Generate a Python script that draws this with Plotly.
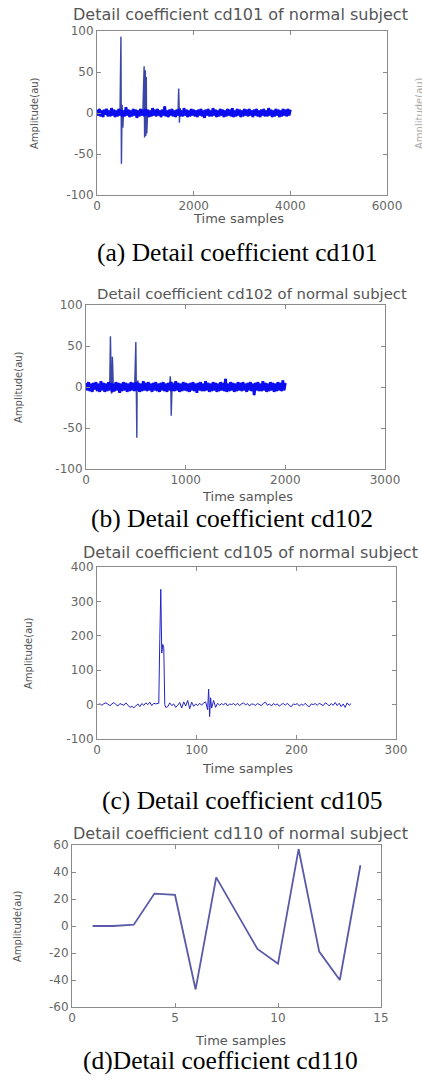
import plotly.graph_objects as go

W, H = 422, 1082

# ---------------- data ----------------
# cd101: sample index every 25 samples, 0..4000
cd101_step = 25
cd101_noise = [
    4, -3, 5, -4, 3, -5, 4, -2, 5, -4, 3, -4, 6, -3, 4, -5, 3, -4, 5, -3,
    4, -5, 3, -4, 7, -3, 4, -5, 3, -4, 5, -3, 4, -6, 3, -4, 5, -3, 4, -4,
    5, -3, 4, -5, 3, -4, 6, -3, 4, -4, 5, -3, 3, -5, 4, -3, 8, -4, 3, -5,
    4, -3, 5, -4, 3, -5, 4, -3, 5, -4, 3, -4, 6, -3, 4, -5, 3, -4, 5, -3,
    4, -4, 3, -5, 4, -3, 5, -4, 3, -6, 4, -3, 5, -4, 3, -4, 6, -3, 4, -5,
    3, -4, 5, -3, 4, -5, 3, -4, 5, -3, 4, -4, 6, -5, 3, -4, 5, -3, 4, -5,
    3, -4, 5, -3, 4, -4, 5, -3, 3, -5, 4, -3, 5, -4, 3, -5, 4, -3, 5, -4,
    3, -4, 6, -3, 4, -5, 3, -4, 5, -3, 4, -5, 3, -4, 5, -3, 4, -4, 5, -3,
    4,
]
cd101_spike_x = [495, 505, 520, 535, 975, 985, 1000, 1010, 1020, 1030, 1690, 1705, 1720]
cd101_spike_y = [93, -62, 10, -18, 57, -30, 52, -28, 44, -25, 30, -12, 6]

# cd102: sample index every 12.5 samples, 0..2000
cd102_step = 12.5
cd102_noise = [
    5, -4, 6, -5, 4, -6, 5, -3, 6, -5, 4, -6, 7, -4, 5, -6, 4, -5, 6, -4,
    5, -6, 4, -5, 6, -4, 5, -7, 4, -5, 6, -4, 5, -6, 4, -5, 6, -4, 5, -5,
    6, -4, 5, -6, 4, -5, 7, -4, 5, -5, 6, -4, 4, -6, 5, -4, 6, -5, 4, -6,
    5, -4, 6, -5, 4, -6, 5, -4, 6, -5, 4, -5, 7, -4, 5, -6, 4, -5, 6, -4,
    5, -5, 4, -6, 5, -4, 6, -5, 4, -7, 5, -4, 6, -5, 4, -5, 7, -4, 5, -6,
    4, -5, 6, -4, 5, -6, 4, -5, 6, -4, 5, -5, 10, -6, 4, -5, 6, -4, 5, -6,
    4, -5, 6, -4, 5, -5, 6, -4, 4, -6, 5, -4, 6, -5, 4, -10, 5, -4, 6, -5,
    4, -5, 7, -4, 5, -6, 4, -5, 6, -4, 5, -6, 4, -5, 6, -4, 5, -5, 8, -4,
    5,
]
cd102_spike_x = [245, 255, 265, 275, 500, 510, 520, 845, 855, 865]
cd102_spike_y = [62, -8, 37, -5, 55, -62, 8, 13, -35, 6]

# cd105: odd sample indices 1..255
cd105_step = 2
cd105_noise = [
    0, 2, -2, 3, 5, 1, -3, 2, 6, 0, -4, 3, 1, -2, 5, -3, -8, -5, -9, -4,
    2, -6, 3, -2, 5, 0, 7, -3, 4, 2,
    3, -1, 4, -4, 2, -6, 5, -3, 2, -8,
    -2, 6, -10, 8, -4, 12, -12, 7, -5, 2,
    -3, 4, -2, 5, 8, -12, 15, -14, 12, -8,
    4, -2, 3, -1, 5, -4, 2, 0, 3, -2,
    4, -3, 2, 5, -1, 3, -4, 2, 1, -2,
    3, 0, -3, 4, 7, -2, 2, -4, 3, -1,
    2, -5, 1, 3, -2, 4, -3, -6, 2, 0,
    3, -4, 1, -2, 4, -3, -6, 2, 0, 3,
    -2, 4, 1, -3, 5, 2, -4, 3, -2, 6,
    -3, 4, -6, 2, -8, 5, -2, 3,
]
cd105_spike_x = [62, 63, 64, 65, 66, 67, 68, 69, 111, 112, 113, 114, 115]
cd105_spike_y = [4, 190, 335, 150, 175, 165, 0, -8, -15, 45, -35, 20, -10]

# cd110: 14 samples
cd110_x = [1, 2, 3, 4, 5, 6, 7, 8, 9, 10, 11, 12, 13, 14]
cd110_y = [0, 0, 1, 24, 23, -47, 36, 10, -17, -28, 57, -19, -40, 45]

titles = ["Detail coefficient cd101 of normal subject",
          "Detail coefficient cd102 of normal subject",
          "Detail coefficient cd105 of normal subject",
          "Detail coefficient cd110 of normal subject"]
captions = ["(a) Detail coefficient cd101", "(b) Detail coefficient cd102",
            "(c) Detail coefficient cd105", "(d)Detail coefficient cd110"]
x_ticks = [[0, 2000, 4000, 6000], [0, 1000, 2000, 3000], [0, 100, 200, 300], [0, 5, 10, 15]]
y_ticks = [[-100, -50, 0, 50, 100], [-100, -50, 0, 50, 100],
           [-100, 0, 100, 200, 300, 400], [-60, -40, -20, 0, 20, 40, 60]]
x_label = "Time samples"
y_label = "Amplitude(au)"


def noise_xy(noise, step, start):
    return [start + i * step for i in range(len(noise))], list(noise)


def merge(noise, step, start, sx, sy):
    d = dict(zip(*noise_xy(noise, step, start)))
    d.update(zip(sx, sy))
    k = sorted(d)
    return k, [d[i] for i in k]


series = [
    merge(cd101_noise, cd101_step, 0, cd101_spike_x, cd101_spike_y),
    merge(cd102_noise, cd102_step, 0, cd102_spike_x, cd102_spike_y),
    merge(cd105_noise, cd105_step, 1, cd105_spike_x, cd105_spike_y),
    (cd110_x, cd110_y),
]
bands = [
    noise_xy(cd101_noise, cd101_step, 0),
    noise_xy(cd102_noise, cd102_step, 0),
    None,
    None,
]

# ---------------- layout (pixel boxes) ----------------
boxes = [  # left, right, top, bottom (px)
    (97, 387, 31, 195),
    (86, 385, 305, 469),
    (97, 396, 567, 739),
    (72, 381, 845, 1007),
]
line_styles = [
    dict(color="#3a46a8", width=1.4),
    dict(color="#3a46a8", width=1.4),
    dict(color="#2424c8", width=1.0),
    dict(color="#5a5aa8", width=1.8),
]
band_style = dict(color="#0c0cf0", width=2.8)
title_pos = [(240, 15, 16), (252, 293, 14.8), (250, 552, 16), (240, 833, 16)]
ytitle_x = [35, 18, 28, 17]
xtitle_pos = [(238, 218), (247, 497), (248, 768), (240, 1040)]
caption_pos = [(237, 252), (232, 518), (242, 800), (220, 1060)]

px = lambda v: v / W
py = lambda v: 1 - v / H

fig = go.Figure()
annotations = []
tickfont = dict(family="DejaVu Sans", size=12, color="#666666")
for i in range(4):
    n = "" if i == 0 else str(i + 1)
    l, r, t, b = boxes[i]
    xs, ys = series[i]
    fig.add_trace(go.Scatter(x=xs, y=ys, mode="lines", line=line_styles[i],
                             xaxis="x" + n, yaxis="y" + n, showlegend=False,
                             hoverinfo="skip"))
    if bands[i] is not None:
        bx, by = bands[i]
        fig.add_trace(go.Scatter(x=bx, y=by, mode="lines", line=band_style,
                                 xaxis="x" + n, yaxis="y" + n, showlegend=False,
                                 hoverinfo="skip"))
    common = dict(showgrid=False, zeroline=False, showline=True, mirror="ticks",
                  linecolor="#8a8a8a", linewidth=1, ticks="inside", ticklen=4,
                  tickcolor="#8a8a8a", tickfont=tickfont)
    fig.layout["xaxis" + n] = dict(domain=[px(l), px(r)], anchor="y" + n,
                                   range=[x_ticks[i][0], x_ticks[i][-1]],
                                   tickvals=x_ticks[i], ticktext=[str(v) for v in x_ticks[i]],
                                   **common)
    fig.layout["yaxis" + n] = dict(domain=[py(b), py(t)], anchor="x" + n,
                                   range=[y_ticks[i][0], y_ticks[i][-1]],
                                   tickvals=y_ticks[i], ticktext=[str(v) for v in y_ticks[i]],
                                   **common)
    tx, ty, ts = title_pos[i]
    annotations.append(dict(text=titles[i], x=px(tx), y=py(ty), xref="paper", yref="paper",
                            xanchor="center", yanchor="middle", showarrow=False,
                            font=dict(family="DejaVu Sans", size=ts, color="#555555")))
    annotations.append(dict(text=y_label, x=px(ytitle_x[i]), y=py((t + b) / 2),
                            xref="paper", yref="paper", xanchor="center", yanchor="middle",
                            textangle=-90, showarrow=False,
                            font=dict(family="DejaVu Sans", size=10, color="#555555")))
    xx, xy = xtitle_pos[i]
    annotations.append(dict(text=x_label, x=px(xx), y=py(xy), xref="paper", yref="paper",
                            xanchor="center", yanchor="middle", showarrow=False,
                            font=dict(family="DejaVu Sans", size=13, color="#555555")))
    cx, cy = caption_pos[i]
    annotations.append(dict(text=captions[i], x=px(cx), y=py(cy), xref="paper", yref="paper",
                            xanchor="center", yanchor="middle", showarrow=False,
                            font=dict(family="Liberation Serif", size=25.5, color="#000000")))

# faint cut-off neighbour label at the right edge of the first panel
annotations.append(dict(text=y_label, x=px(420), y=py(113), xref="paper", yref="paper",
                        xanchor="center", yanchor="middle", textangle=-90, showarrow=False,
                        font=dict(family="DejaVu Sans", size=10, color="#aaaaaa")))

fig.update_layout(width=W, height=H,
                  margin=dict(l=0, r=0, t=0, b=0, pad=0, autoexpand=False),
                  paper_bgcolor="white", plot_bgcolor="white",
                  annotations=annotations)
fig.write_html("out.html", config=dict(displayModeBar=False),
               post_script=["document.body.style.margin='0';"
                            "document.body.style.overflow='hidden';"])
